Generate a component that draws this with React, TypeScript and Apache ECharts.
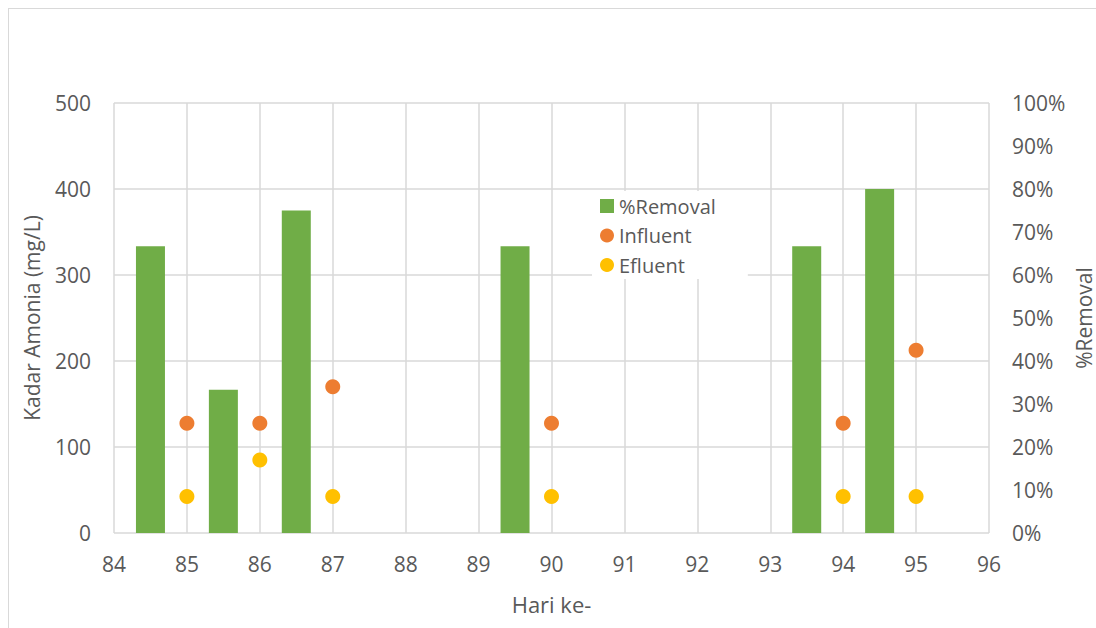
import React, { useEffect, useRef } from "react";
import * as echarts from "echarts";

// Sampling days (Hari ke-) and ammonia readings, mg/L
const days = [85, 86, 87, 90, 94, 95];
const influent = [127.5, 127.5, 170, 127.5, 127.5, 212.5];
const efluent = [42.5, 85, 42.5, 42.5, 42.5, 42.5];
// Removal efficiency per sampling day, %
const removal = [66.67, 33.33, 75, 66.67, 66.67, 80];

// Removal bars are drawn half a day ahead of their sampling day
const barOffset = -0.5;

const FONT = "'Open Sans', 'Noto Sans', sans-serif";
const TEXT = "#595959";
const GRID = "#d9d9d9";

export default function App() {
  const ref = useRef<HTMLDivElement>(null);

  useEffect(() => {
    if (!ref.current) return;
    const chart = echarts.init(ref.current, undefined, { renderer: "svg" });
    chart.setOption({
      animation: false,
      backgroundColor: "#fff",
      textStyle: { fontFamily: FONT },
      grid: { left: 105, top: 94, width: 875, height: 430 },
      legend: {
        orient: "vertical",
        left: 583,
        top: 182,
        backgroundColor: "#fff",
        padding: [4, 32, 3, 8],
        itemWidth: 14,
        itemHeight: 14,
        itemGap: 7.5,
        textStyle: { fontSize: 20, color: TEXT, fontFamily: FONT, lineHeight: 22 },
        data: [
          { name: "%Removal", icon: "rect" },
          { name: "Influent", icon: "circle" },
          { name: "Efluent", icon: "circle" },
        ],
      },
      xAxis: {
        type: "value",
        min: 84,
        max: 96,
        interval: 1,
        name: "Hari ke-",
        nameLocation: "middle",
        nameGap: 60,
        nameTextStyle: { fontSize: 22, color: TEXT, fontFamily: FONT },
        axisLine: { show: false },
        axisTick: { show: false },
        axisLabel: { fontSize: 21, color: TEXT, fontFamily: FONT, margin: 20 },
        splitLine: { show: true, lineStyle: { color: GRID, width: 1.5 } },
      },
      yAxis: [
        {
          type: "value",
          min: 0,
          max: 500,
          interval: 100,
          name: "Kadar Amonia (mg/L)",
          nameLocation: "middle",
          nameGap: 72,
          nameRotate: 90,
          nameTextStyle: { fontSize: 21, color: TEXT, fontFamily: FONT },
          axisLine: { show: false },
          axisTick: { show: false },
          axisLabel: { fontSize: 21, color: TEXT, fontFamily: FONT, margin: 23 },
          splitLine: { show: true, lineStyle: { color: GRID, width: 1.5 } },
        },
        {
          type: "value",
          min: 0,
          max: 100,
          interval: 10,
          position: "right",
          name: "%Removal",
          nameLocation: "middle",
          nameGap: 84,
          nameMoveOverlap: false,
          nameRotate: 90,
          nameTextStyle: { fontSize: 21, color: TEXT, fontFamily: FONT },
          axisLine: { show: false },
          axisTick: { show: false },
          axisLabel: {
            fontSize: 21,
            color: TEXT,
            fontFamily: FONT,
            margin: 23,
            formatter: "{value}%",
          },
          splitLine: { show: false },
        },
      ],
      series: [
        {
          name: "%Removal",
          type: "bar",
          yAxisIndex: 1,
          barWidth: 29,
          itemStyle: { color: "#70AD47" },
          data: days.map((d, i) => [d + barOffset, removal[i]]),
        },
        {
          name: "Influent",
          type: "scatter",
          yAxisIndex: 0,
          symbol: "circle",
          symbolSize: 15,
          itemStyle: { color: "#ED7D31", opacity: 1 },
          data: days.map((d, i) => [d, influent[i]]),
        },
        {
          name: "Efluent",
          type: "scatter",
          yAxisIndex: 0,
          symbol: "circle",
          symbolSize: 15,
          itemStyle: { color: "#FFC000", opacity: 1 },
          data: days.map((d, i) => [d, efluent[i]]),
        },
      ],
    });
    return () => chart.dispose();
  }, []);

  return (
    <div
      style={{
        position: "fixed",
        left: 8,
        top: 8,
        width: 1100,
        height: 630,
        boxSizing: "border-box",
        borderLeft: `1px solid ${GRID}`,
        borderTop: `1px solid ${GRID}`,
        background: "#fff",
      }}
    >
      <div ref={ref} style={{ width: "100%", height: "100%" }} />
    </div>
  );
}
